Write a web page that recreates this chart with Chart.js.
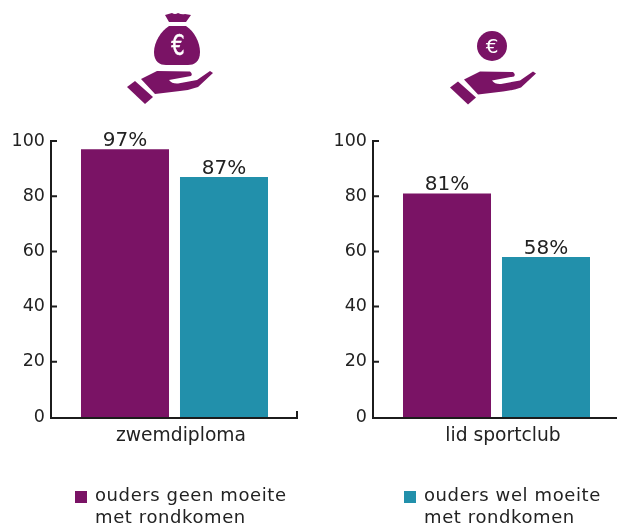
<!DOCTYPE html>
<html><head><meta charset="utf-8">
<script src="https://cdn.jsdelivr.net/npm/chart.js@4"></script>
<style>
html,body{margin:0;padding:0;background:#fff;overflow:hidden;width:617px;height:526px}
canvas{position:absolute;top:0}
#c1{left:0}#c2{left:322px}
svg{position:absolute;left:0;top:0}
.lg{position:absolute;font:18px/22px "DejaVu Sans",sans-serif;letter-spacing:.6px;color:#222;top:484px;white-space:nowrap}
.sq{position:absolute;width:12px;height:12px;top:491px}
</style></head><body>
<canvas id="c1"></canvas><canvas id="c2"></canvas>
<svg width="617" height="110" viewBox="0 0 617 110">
<defs><g id="hand" fill="#7a1365">
<path d="M127,87L135,81L153,97L145,104Z"/>
<path d="M141,79L157,71L190,71.5Q193,74 191,76L169,80Q172,84 178,83.5L197,80L210,71L213,73L198,87Q190,90 180,91L155,94Z"/>
</g></defs>
<use href="#hand"/><use href="#hand" x="323" y="0.5"/>
<path fill="#7a1365" d="M165,15L172,13Q175,15 178,13Q182,15 185,14L191,15L186,22H169Z"/>
<path fill="#7a1365" d="M169,26H186C194,31 200,42 200,52C200,62 194,65 188,65H166C160,65 154,62 154,52C154,42 161,31 169,26Z"/>
<circle cx="492" cy="46" r="15" fill="#7a1365"/>
<text transform="translate(178,55) scale(.75,1)" text-anchor="middle" fill="#fff" stroke="#fff" stroke-width=".5" font-family="DejaVu Sans" font-size="28">€</text>
<text x="492" y="53" text-anchor="middle" fill="#fff" font-family="DejaVu Sans" font-size="20">€</text>
</svg>
<div class="sq" style="left:75px;background:#7a1365"></div>
<div class="lg" style="left:95px">ouders geen moeite<br>met rondkomen</div>
<div class="sq" style="left:404px;background:#2290ab"></div>
<div class="lg" style="left:424px">ouders wel moeite<br>met rondkomen</div>
<script>
const seriesNames=["ouders geen moeite met rondkomen","ouders wel moeite met rondkomen"];
const categoryA=["zwemdiploma"];
const categoryB=["lid sportclub"];
const geenMoeiteA=[97];
const welMoeiteA=[87];
const geenMoeiteB=[81];
const welMoeiteB=[58];
const yTicks=[0,20,40,60,80,100];
const purple="#7a1365",teal="#2290ab",ink="#1c1c1c";
const fam="'DejaVu Sans',sans-serif";

const decor={id:"decor",afterDraw(ch){
  const c=ch.ctx,y=ch.scales.y,a=ch.chartArea;
  c.save();c.strokeStyle=ink;c.lineWidth=2;
  c.beginPath();
  yTicks.forEach(v=>{const p=y.getPixelForValue(v);if(v>0){c.moveTo(a.left,p);c.lineTo(a.left+6,p);}});
  c.moveTo(a.left,y.getPixelForValue(100)-1);c.lineTo(a.left,y.getPixelForValue(0)+1);
  c.lineTo(a.right-1,y.getPixelForValue(0)+1);c.lineTo(a.right-1,y.getPixelForValue(0)-6);
  c.stroke();
  c.fillStyle="#222";c.font="20px "+fam;c.textAlign="center";c.textBaseline="alphabetic";
  ch.data.datasets.forEach((d,i)=>{const b=ch.getDatasetMeta(i).data[0];c.fillText(d.data[0]+"%",b.x,b.y-3);});
  c.restore();
}};

function make(id,labels,a,b){
  const el=document.getElementById(id);
  return new Chart(el,{type:"bar",
    data:{labels,datasets:[
      {label:seriesNames[0],data:a,backgroundColor:purple},
      {label:seriesNames[1],data:b,backgroundColor:teal}]},
    options:{responsive:false,animation:false,devicePixelRatio:1,
      layout:{padding:{left:0,right:0,top:141,bottom:0}},
      plugins:{legend:{display:false},tooltip:{enabled:false}},
      datasets:{bar:{categoryPercentage:0.8016,barPercentage:0.889}},
      scales:{
        x:{grid:{display:false},border:{display:false},
           ticks:{color:"#222",font:{family:fam,size:18.7},padding:0,maxRotation:0,labelOffset:6.5},
           afterFit(s){s.height=109;}},
        y:{min:0,max:100,grid:{display:false},border:{display:false},
           afterBuildTicks(s){s.ticks=yTicks.map(v=>({value:v}));},
           ticks:{color:"#222",font:{family:fam,size:17.5},padding:-2},
           afterFit(s){s.width=51;}}
      }},
    plugins:[decor]});
}
function size(id,w){const e=document.getElementById(id);e.width=w;e.height=526;e.style.width=w+"px";e.style.height="526px";}
size("c1",298);size("c2",298);
make("c1",categoryA,geenMoeiteA,welMoeiteA);
make("c2",categoryB,geenMoeiteB,welMoeiteB);
</script>
</body></html>
